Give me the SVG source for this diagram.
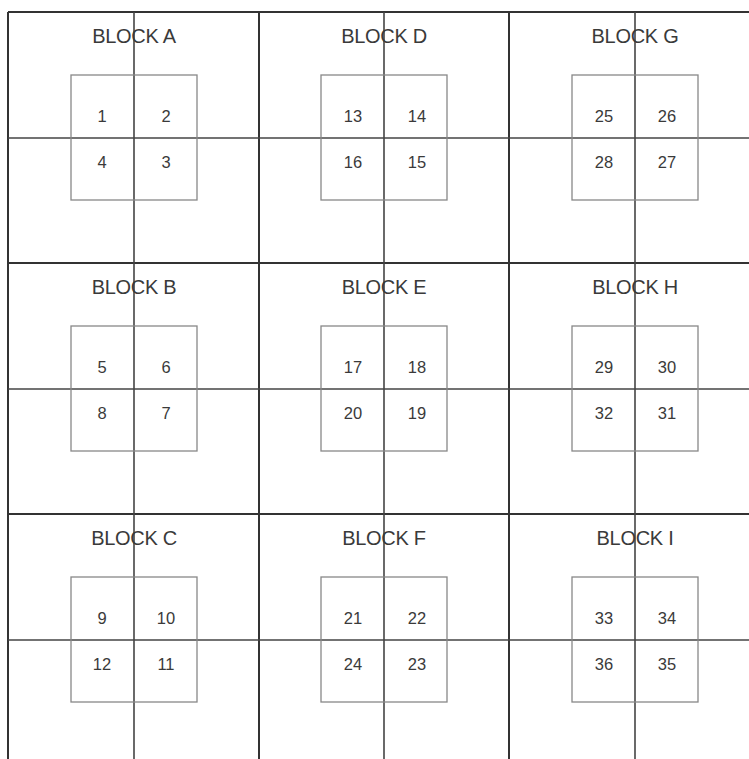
<svg xmlns="http://www.w3.org/2000/svg" width="749" height="759" viewBox="0 0 749 759">
<style>
.bg{fill:#fff}
.grid{stroke:#333;stroke-width:2;fill:none}
.cross{stroke:#444;stroke-width:1.6;fill:none}
.box{stroke:#888;stroke-width:1.3;fill:none}
.lbl{font-family:"Liberation Sans",Arial,sans-serif;font-size:20px;fill:#3a3a3a;text-anchor:middle;letter-spacing:-0.3px}
.num{font-family:"Liberation Sans",Arial,sans-serif;font-size:16.5px;fill:#3a3a3a;text-anchor:middle}
</style>
<rect class="bg" x="0" y="0" width="749" height="759"/>
<g id="connectors">
<g id="grid">
<line class="grid" x1="8" y1="12" x2="749" y2="12"/>
<line class="grid" x1="8" y1="263" x2="749" y2="263"/>
<line class="grid" x1="8" y1="514" x2="749" y2="514"/>
<line class="grid" x1="8" y1="12" x2="8" y2="759"/>
<line class="grid" x1="259" y1="12" x2="259" y2="759"/>
<line class="grid" x1="509" y1="12" x2="509" y2="759"/>
</g>
<g id="cross">
<line class="cross" x1="8" y1="138" x2="749" y2="138"/>
<line class="cross" x1="8" y1="389" x2="749" y2="389"/>
<line class="cross" x1="8" y1="640" x2="749" y2="640"/>
<line class="cross" x1="134" y1="12" x2="134" y2="759"/>
<line class="cross" x1="384" y1="12" x2="384" y2="759"/>
<line class="cross" x1="635" y1="12" x2="635" y2="759"/>
</g>
</g>
<g id="blockA"><text class="lbl" x="134" y="43">BLOCK A</text><rect class="box" x="71" y="75" width="126" height="125"/><text class="num" x="102" y="122">1</text><text class="num" x="166" y="122">2</text><text class="num" x="102" y="168">4</text><text class="num" x="166" y="168">3</text></g>
<g id="blockB"><text class="lbl" x="134" y="294">BLOCK B</text><rect class="box" x="71" y="326" width="126" height="125"/><text class="num" x="102" y="373">5</text><text class="num" x="166" y="373">6</text><text class="num" x="102" y="419">8</text><text class="num" x="166" y="419">7</text></g>
<g id="blockC"><text class="lbl" x="134" y="545">BLOCK C</text><rect class="box" x="71" y="577" width="126" height="125"/><text class="num" x="102" y="624">9</text><text class="num" x="166" y="624">10</text><text class="num" x="102" y="670">12</text><text class="num" x="166" y="670">11</text></g>
<g id="blockD"><text class="lbl" x="384" y="43">BLOCK D</text><rect class="box" x="321" y="75" width="126" height="125"/><text class="num" x="353" y="122">13</text><text class="num" x="417" y="122">14</text><text class="num" x="353" y="168">16</text><text class="num" x="417" y="168">15</text></g>
<g id="blockE"><text class="lbl" x="384" y="294">BLOCK E</text><rect class="box" x="321" y="326" width="126" height="125"/><text class="num" x="353" y="373">17</text><text class="num" x="417" y="373">18</text><text class="num" x="353" y="419">20</text><text class="num" x="417" y="419">19</text></g>
<g id="blockF"><text class="lbl" x="384" y="545">BLOCK F</text><rect class="box" x="321" y="577" width="126" height="125"/><text class="num" x="353" y="624">21</text><text class="num" x="417" y="624">22</text><text class="num" x="353" y="670">24</text><text class="num" x="417" y="670">23</text></g>
<g id="blockG"><text class="lbl" x="635" y="43">BLOCK G</text><rect class="box" x="572" y="75" width="126" height="125"/><text class="num" x="604" y="122">25</text><text class="num" x="667" y="122">26</text><text class="num" x="604" y="168">28</text><text class="num" x="667" y="168">27</text></g>
<g id="blockH"><text class="lbl" x="635" y="294">BLOCK H</text><rect class="box" x="572" y="326" width="126" height="125"/><text class="num" x="604" y="373">29</text><text class="num" x="667" y="373">30</text><text class="num" x="604" y="419">32</text><text class="num" x="667" y="419">31</text></g>
<g id="blockI"><text class="lbl" x="635" y="545">BLOCK I</text><rect class="box" x="572" y="577" width="126" height="125"/><text class="num" x="604" y="624">33</text><text class="num" x="667" y="624">34</text><text class="num" x="604" y="670">36</text><text class="num" x="667" y="670">35</text></g>
</svg>
